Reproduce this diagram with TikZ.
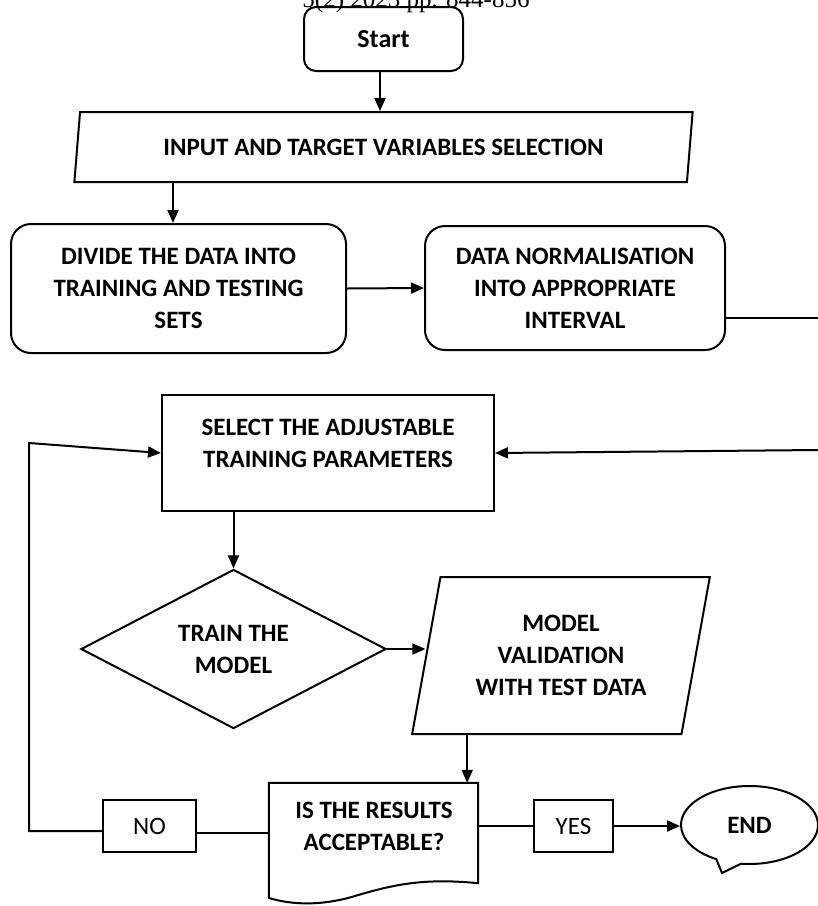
\documentclass[tikz,border=0pt]{standalone}
\usepackage{fontspec}
\setmainfont{Carlito}
\newfontfamily\hdrfont{Liberation Serif}
\usetikzlibrary{arrows.meta,shapes.geometric,shapes.callouts}
\tikzset{
  ln/.style={line width=2pt},
  arr/.style={ln,-{Triangle[length=13pt,width=11pt]}},
  bt/.style={font=\bfseries\fontsize{25}{32}\selectfont,align=center},
  rt/.style={font=\fontsize{25}{32}\selectfont,align=center},
  rbox/.style={draw,ln,rounded corners=20pt,inner sep=0pt},
  pbox/.style={draw,ln,inner sep=0pt},
  para/.style={draw,ln,shape=trapezium,trapezium left angle=76,trapezium right angle=104,trapezium stretches=true,inner sep=0pt},
}
\begin{document}
\begin{tikzpicture}[x=1pt,y=-1pt]
\useasboundingbox (0,0) rectangle (818,906);
% header (clipped at top edge, as in the reference)
\node[anchor=base,font=\hdrfont\fontsize{25}{30}\selectfont,inner sep=0pt] (hdr) at (416,7) {5(2) 2023 pp. 844-856};
% nodes
\node[draw,ln,rounded corners=12pt,inner sep=0pt,minimum width=159,minimum height=64,font=\bfseries\fontsize{26}{32}\selectfont] (start) at (383.5,39) {Start};
\node[para,bt,minimum width=619,minimum height=70] (input) at (383.5,147) {INPUT AND TARGET VARIABLES SELECTION};
\node[rbox,bt,minimum width=335,minimum height=129] (div) at (178.5,288.5) {DIVIDE THE DATA INTO\\TRAINING AND TESTING\\SETS};
\node[rbox,bt,minimum width=300,minimum height=124] (norm) at (575,288) {DATA NORMALISATION\\INTO APPROPRIATE\\INTERVAL};
\node[pbox,minimum width=332,minimum height=116] (sel) at (328,453) {};
\node[bt] (selt) at (328,443) {SELECT THE ADJUSTABLE\\TRAINING PARAMETERS};
\node[draw,ln,shape=diamond,inner sep=0pt,minimum width=305,minimum height=154,bt] (train) at (233.5,649) {TRAIN THE\\MODEL};
\node[para,bt,minimum width=298,minimum height=157] (model) at (561,655.5) {MODEL\\VALIDATION\\WITH TEST DATA};
\node[minimum width=209,minimum height=100,inner sep=0pt] (doc) at (373.5,833) {};
\draw[ln] (doc.south east) .. controls (425,878) and (395,884) .. (355,896)
  .. controls (322,906) and (292,905) .. (269,898) -- (doc.north west) -- (doc.north east) -- cycle;
\node[bt] (doct) at (374,826) {IS THE RESULTS\\ACCEPTABLE?};
\node[pbox,rt,minimum width=93,minimum height=52] (no) at (149.5,826) {NO};
\node[pbox,rt,minimum width=79,minimum height=52] (yes) at (573.5,826) {YES};
\node[draw,ln,shape=ellipse callout,minimum width=137,minimum height=78,inner sep=0pt,
  callout absolute pointer={(722,873)},callout pointer arc=22,bt] (endn) at (749.5,825) {END};
% free ends
\coordinate (r1) at (818,318);
\coordinate (r2) at (818,450);
\coordinate (lb) at (29,831);
\coordinate (lt) at (29,443);
% connectors
\draw[arr] ([xshift=-3.5pt]start.south) -- ([xshift=-3.5pt]start.south |- input.north);
\draw[arr] ([xshift=-5.5pt]div.north |- input.south) -- ([xshift=-5.5pt]div.north);
\draw[arr] (div.east) -- (norm.west);
\draw[ln] ([yshift=-30pt]norm.east) -- (r1);
\draw[arr] (r2) -- (sel.east);
\draw[arr] (train.north |- sel.south) -- (train.north);
\draw[arr] (train.east) -- (train.east -| model.west);
\draw[arr] ([xshift=-11pt]doc.north east |- model.south) -- ([xshift=-11pt]doc.north east);
\draw[ln] (doc.west) -- (doc.west -| no.east);
\draw[arr] ([yshift=-5pt]no.west) -- (lb) -- (lt) -- (sel.west);
\draw[ln] (yes.west -| doc.east) -- (yes.west);
\draw[arr] (yes.east) -- (yes.east -| endn.west);
\end{tikzpicture}
\end{document}
